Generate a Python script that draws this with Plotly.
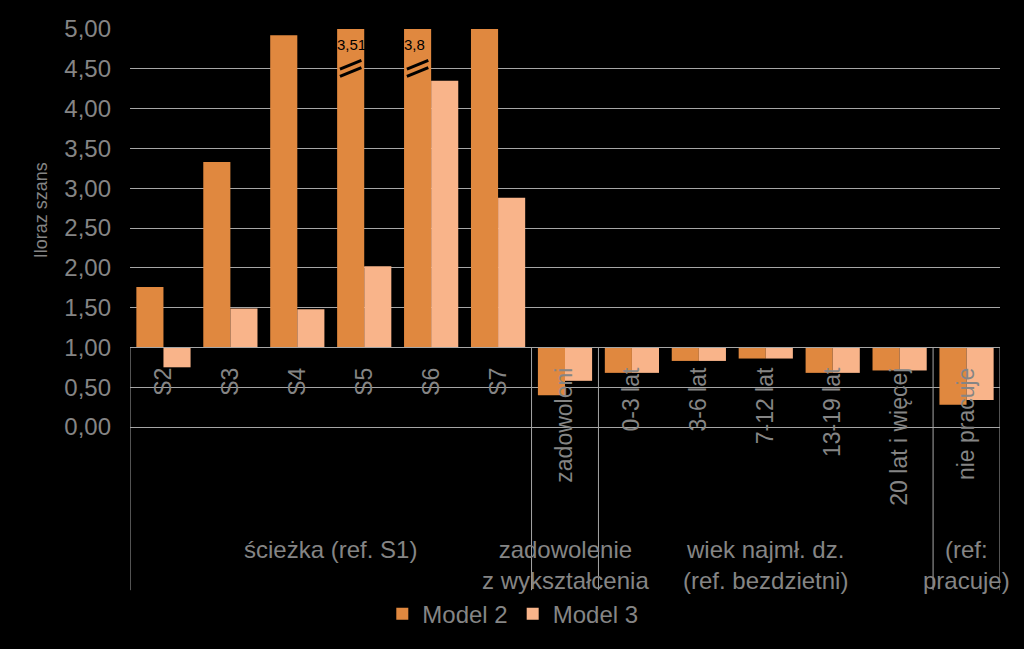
import plotly.graph_objects as go

# ---- data ----
categories = ["S2", "S3", "S4", "S5", "S6", "S7", "zadowoleni",
              "0-3 lat", "3-6 lat", "7-12 lat", "13-19 lat", "20 lat i więcej", "nie pracuje"]
model2 = [1.76, 3.33, 4.92, 13.51, 13.8, 5.00, 0.40, 0.68, 0.83, 0.86, 0.68, 0.71, 0.28]
model3 = [0.75, 1.49, 1.48, 2.02, 4.35, 2.88, 0.58, 0.68, 0.83, 0.86, 0.68, 0.71, 0.34]
groups = ["ścieżka (ref. S1)", "zadowolenie<br>z wykształcenia",
          "wiek najmł. dz.<br>(ref. bezdzietni)", "(ref:<br>pracuje)"]
group_sizes = [6, 1, 5, 1]
broken_idx = [3, 4]               # Model 2 bars that exceed the axis
broken_labels = ["3,51", "3,8"]   # visible part of their value labels
series_names = ["Model 2", "Model 3"]

# ---- style ----
C2 = "#E0883F"
C3 = "#F9B48A"
GRAY = "#858585"
GRID = "#A6A6A6"
FONT = "Liberation Sans, Arial, sans-serif"
BASE = 1.0
YMIN, YMAX = 0.0, 5.0
BARGAP = 0.19
BREAK_Y = 4.5

x = list(range(len(categories)))
fig = go.Figure()
for name, vals, col in [(series_names[0], model2, C2), (series_names[1], model3, C3)]:
    fig.add_trace(go.Bar(
        x=x, y=[v - BASE for v in vals], base=BASE, name=name,
        marker=dict(color=col, line=dict(width=0)),
    ))

shapes = []
# group dividers below the category axis
bounds = [-0.5]
for s in group_sizes:
    bounds.append(bounds[-1] + s)
axis_pos = (BASE - YMIN) / (YMAX - YMIN)
for b in bounds:
    shapes.append(dict(type="line", xref="x", yref="paper", x0=b, x1=b,
                       y0=axis_pos, y1=-0.41, line=dict(color=GRID, width=1)))

# axis break marks on overflowing bars
half = (1 - BARGAP) / 2
annotations = []
for i, lab in zip(broken_idx, broken_labels):
    cx = i - half / 2
    for dy in (0.0, -0.09):
        shapes.append(dict(type="line", xref="x", yref="y",
                           x0=cx - 0.16, x1=cx + 0.16,
                           y0=BREAK_Y + dy - 0.055 + 0.05, y1=BREAK_Y + dy + 0.055 + 0.05,
                           line=dict(color="black", width=3)))
    annotations.append(dict(x=i - half, y=4.81, xref="x", yref="y", text=lab,
                            showarrow=False, xanchor="left", yanchor="middle", xshift=-2,
                            font=dict(family=FONT, size=15, color="black")))

# group labels
start = 0
for g, s in zip(groups, group_sizes):
    cx = start + (s - 1) / 2
    annotations.append(dict(x=cx, y=-0.268, xref="x", yref="paper", text=g,
                            showarrow=False, xanchor="center", yanchor="top",
                            font=dict(family=FONT, size=24, color=GRAY)))
    start += s

# y axis title
annotations.append(dict(x=-0.102, y=0.545, xref="paper", yref="paper", text="Iloraz szans",
                        textangle=-90, showarrow=False, xanchor="center", yanchor="middle",
                        font=dict(family=FONT, size=18, color=GRAY)))

fig.update_layout(
    width=1024, height=649,
    paper_bgcolor="black", plot_bgcolor="black",
    margin=dict(l=130, r=24, t=29, b=222),
    separators=", ",
    barmode="group", bargap=BARGAP, bargroupgap=0,
    font=dict(family=FONT, color=GRAY),
    showlegend=True,
    legend=dict(orientation="h", x=0.29, xanchor="left", y=-0.47, yanchor="middle",
                font=dict(family=FONT, size=24, color=GRAY),
                bgcolor="rgba(0,0,0,0)", itemwidth=30, traceorder="normal"),
    shapes=shapes, annotations=annotations,
    xaxis=dict(
        range=[-0.5, len(categories) - 0.5], tickmode="array", tickvals=x, ticktext=categories,
        tickangle=-90, anchor="free", position=axis_pos,
        showline=True, linecolor=GRID, linewidth=1, showgrid=False, zeroline=False,
        ticks="", ticklabelstandoff=10,
        tickfont=dict(family=FONT, size=23, color=GRAY),
    ),
    yaxis=dict(
        range=[YMIN, YMAX], dtick=0.5, tick0=0, tickformat=".2f",
        showgrid=True, gridcolor=GRID, gridwidth=1,
        zeroline=True, zerolinecolor=GRID, zerolinewidth=1,
        showline=False, ticks="", ticklabelstandoff=18,
        tickfont=dict(family=FONT, size=24, color=GRAY),
    ),
)

fig.write_html("out.html")
